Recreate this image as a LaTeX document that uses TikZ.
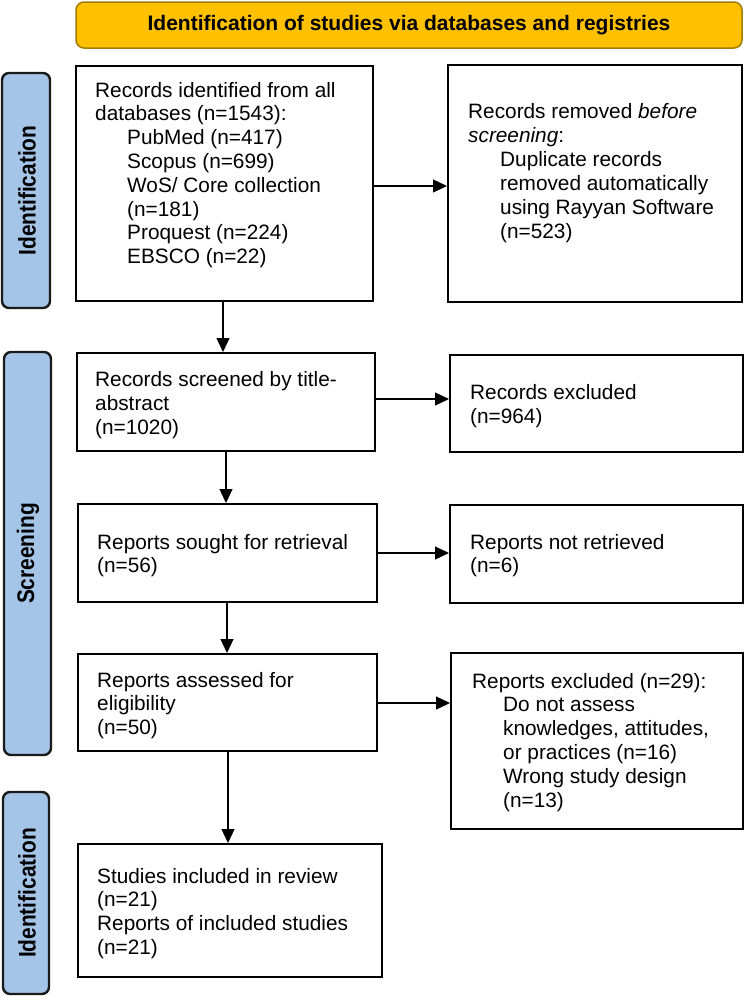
\documentclass[tikz,border=0pt]{standalone}
\usepackage{fontspec}
\setmainfont{Liberation Sans}
\newfontfamily\sidefont[FakeStretch=0.87]{Liberation Sans}
\usetikzlibrary{arrows.meta}
\definecolor{gold}{HTML}{FFC000}
\definecolor{goldedge}{HTML}{A07C00}
\definecolor{sideblue}{HTML}{A4C4E8}
\definecolor{sideedge}{HTML}{1A1A1A}
\newcommand{\ind}{\hspace*{32pt}}
\tikzset{
  box/.style={draw=black, line width=2pt, rectangle, inner sep=0pt},
  side/.style={draw=sideedge, fill=sideblue, line width=2.4pt, rounded corners=7pt, inner sep=0pt},
  sidelabel/.style={rotate=90, inner sep=0pt, font=\sidefont\bfseries\fontsize{24}{26}\selectfont},
  titlebox/.style={draw=goldedge, fill=gold, line width=1.5pt, rounded corners=8pt, inner sep=0pt},
  txt/.style={anchor=base west, inner sep=0pt, font=\fontsize{20.8}{24}\selectfont},
  arr/.style={line width=1.2pt, -{Triangle[length=14pt,width=13pt]}}
}
\begin{document}
\begin{tikzpicture}[x=1pt,y=-1pt]
\useasboundingbox (0,0) rectangle (744,996);
% title
\node[titlebox, minimum width=666pt, minimum height=46pt] (title) at (409,25) {};
\node[inner sep=0pt, font=\bfseries\fontsize{21}{24}\selectfont] (titletext) at (409,25) {Identification of studies via databases and registries};
% side bars
\node[side, minimum width=48pt, minimum height=235pt] (s1) at (26,190.5) {};
\node[sidelabel] (s1t) at (27,190.5) {Identification};
\node[side, minimum width=47pt, minimum height=403pt] (s2) at (27.5,553.5) {};
\node[sidelabel] (s2t) at (28,553.5) {Screening};
\node[side, minimum width=46pt, minimum height=202pt] (s3) at (26,893) {};
\node[sidelabel] (s3t) at (27,893) {Identification};
% boxes
\node[box, minimum width=297pt, minimum height=235pt] (b1) at (224.5,183.5) {};
\node[box, minimum width=294pt, minimum height=237pt] (b2) at (595,183.5) {};
\node[box, minimum width=298pt, minimum height=98pt] (b3) at (226,402) {};
\node[box, minimum width=293pt, minimum height=97pt] (b4) at (596.5,403.5) {};
\node[box, minimum width=299pt, minimum height=98pt] (b5) at (227.5,553) {};
\node[box, minimum width=293pt, minimum height=98pt] (b6) at (596.5,554) {};
\node[box, minimum width=299pt, minimum height=97pt] (b7) at (227.5,702.5) {};
\node[box, minimum width=292pt, minimum height=176pt] (b8) at (597,741) {};
\node[box, minimum width=304pt, minimum height=133pt] (b9) at (230,910.5) {};
% texts
\node[txt] (t1) at (95,97) {\vtop{\baselineskip=23.8pt
  \hbox{Records identified from all}
  \hbox{databases (n=1543):}
  \hbox{\ind PubMed (n=417)}
  \hbox{\ind Scopus (n=699)}
  \hbox{\ind WoS/ Core collection}
  \hbox{\ind (n=181)}
  \hbox{\ind Proquest (n=224)}
  \hbox{\ind EBSCO (n=22)}}};
\node[txt] (t2) at (468,118) {\vtop{\baselineskip=24pt
  \hbox{Records removed \textit{before}}
  \hbox{\textit{screening}:}
  \hbox{\ind Duplicate records}
  \hbox{\ind removed automatically}
  \hbox{\ind using Rayyan Software}
  \hbox{\ind (n=523)}}};
\node[txt] (t3) at (95,386) {\vtop{\baselineskip=24pt
  \hbox{Records screened by title-}
  \hbox{abstract}
  \hbox{(n=1020)}}};
\node[txt] (t4) at (470,399) {\vtop{\baselineskip=24pt
  \hbox{Records excluded}
  \hbox{(n=964)}}};
\node[txt] (t5) at (97,549) {\vtop{\baselineskip=23.5pt
  \hbox{Reports sought for retrieval}
  \hbox{(n=56)}}};
\node[txt] (t6) at (470,549) {\vtop{\baselineskip=23.5pt
  \hbox{Reports not retrieved}
  \hbox{(n=6)}}};
\node[txt] (t7) at (97,687) {\vtop{\baselineskip=23.8pt
  \hbox{Reports assessed for}
  \hbox{eligibility}
  \hbox{(n=50)}}};
\node[txt] (t8) at (472,688) {\vtop{\baselineskip=23.9pt
  \hbox{Reports excluded (n=29):}
  \hbox{\hspace*{31pt}Do not assess}
  \hbox{\hspace*{31pt}knowledges, attitudes,}
  \hbox{\hspace*{31pt}or practices (n=16)}
  \hbox{\hspace*{31pt}Wrong study design}
  \hbox{\hspace*{31pt}(n=13)}}};
\node[txt] (t9) at (97,883) {\vtop{\baselineskip=23.9pt
  \hbox{Studies included in review}
  \hbox{(n=21)}
  \hbox{Reports of included studies}
  \hbox{(n=21)}}};
% connector endpoints
\coordinate (a1s) at (b1.east |- 0,186);
\coordinate (a1e) at (b2.west |- 0,186);
\coordinate (a2s) at (223,0 |- b1.south);
\coordinate (a2e) at (223,0 |- b3.north);
\coordinate (a3s) at (b3.east |- 0,399);
\coordinate (a3e) at (b4.west |- 0,399);
\coordinate (a4s) at (226,0 |- b3.south);
\coordinate (a4e) at (226,0 |- b5.north);
\coordinate (a5s) at (b5.east |- 0,553);
\coordinate (a5e) at (b6.west |- 0,553);
\coordinate (a6s) at (227,0 |- b5.south);
\coordinate (a6e) at (227,0 |- b7.north);
\coordinate (a7s) at (b7.east |- 0,703);
\coordinate (a7e) at (b8.west |- 0,703);
\coordinate (a8s) at (228,0 |- b7.south);
\coordinate (a8e) at (228,0 |- b9.north);
\draw[arr] (a1s) -- (a1e);
\draw[arr] (a2s) -- (a2e);
\draw[arr] (a3s) -- (a3e);
\draw[arr] (a4s) -- (a4e);
\draw[arr] (a5s) -- (a5e);
\draw[arr] (a6s) -- (a6e);
\draw[arr] (a7s) -- (a7e);
\draw[arr] (a8s) -- (a8e);
\end{tikzpicture}
\end{document}
